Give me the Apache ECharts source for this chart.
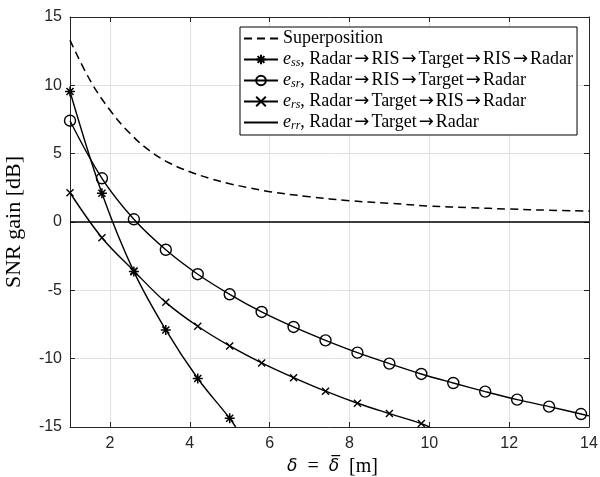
<!DOCTYPE html>
<html><head><meta charset="utf-8">
<script src="https://cdn.jsdelivr.net/npm/echarts@6/dist/echarts.min.js"></script>
<style>html,body{margin:0;padding:0;background:#fff}#c{width:600px;height:477px}</style>
</head><body><div id="c"></div>
<script>
// x positions of the markers (every curve shares them)
const markerX = [1, 1.8, 2.6, 3.4, 4.2, 5.0, 5.8, 6.6, 7.4, 8.2, 9.0, 9.8, 10.6, 11.4, 12.2, 13.0, 13.8];
// e_ss : Radar->RIS->Target->RIS->Radar
const essY = [9.55, 2.1, -3.63, -7.9, -11.45, -14.36];
const essEnd = [5.15, -15.0];
// e_sr : Radar->RIS->Target->Radar
const esrY = [7.41, 3.2, 0.2, -2.03, -3.82, -5.29, -6.58, -7.68, -8.66, -9.56, -10.36, -11.12, -11.78, -12.41, -13.0, -13.51, -14.05];
const esrEnd = [14, -14.19];
// e_rs : Radar->Target->RIS->Radar
const ersY = [2.14, -1.15, -3.58, -5.88, -7.63, -9.07, -10.31, -11.39, -12.38, -13.26, -14.02, -14.75];
const ersEnd = [10.0, -15.0];
// e_rr : Radar->Target->Radar
const errX = [1, 14];
const errY = [0, 0];
// Superposition
const supX = [1, 1.5, 2, 2.5, 3, 3.5, 4, 4.5, 5, 5.5, 6, 7, 8, 9, 10, 11, 12, 13, 14];
const supY = [13.31, 10.39, 8.19, 6.49, 5.2, 4.3, 3.68, 3.19, 2.8, 2.5, 2.22, 1.85, 1.56, 1.37, 1.17, 1.05, 0.95, 0.86, 0.80];
// axis ticks
const yTicks = { min: -15, max: 15, step: 5 };
const xRange = { min: 1, max: 14 };
// legend texts
const legendNames = ['Superposition', 'ess', 'esr', 'ers', 'err'];
const legendSubs = { ess: 'ss', esr: 'sr', ers: 'rs', err: 'rr' };
const legendPaths = {
  ess: ['Radar', 'RIS', 'Target', 'RIS', 'Radar'],
  esr: ['Radar', 'RIS', 'Target', 'Radar'],
  ers: ['Radar', 'Target', 'RIS', 'Radar'],
  err: ['Radar', 'Target', 'Radar']
};

const SERIF = '"Liberation Serif", "DejaVu Serif", serif';
const SANS = '"Liberation Sans", Arial, sans-serif';
const AX = '#262626';

function build(ys, end) {
  const d = ys.map((y, i) => [markerX[i], y]);
  if (end) d.push({ value: end, symbol: 'none' });
  return d;
}

const asterisk = 'path://M0,-10L0,10M-10,0L10,0M-7.07,-7.07L7.07,7.07M-7.07,7.07L7.07,-7.07';
const cross = 'path://M-10,-10L10,10M-10,10L10,-10';

const chart = echarts.init(document.getElementById('c'), null, { renderer: 'canvas' });

const baseX = {
  type: 'value', min: xRange.min, max: xRange.max, splitNumber: 6,
  axisLine: { show: true, onZero: false, lineStyle: { color: AX, width: 1 } },
  axisTick: { show: true, inside: true, length: 5, lineStyle: { color: AX } }
};
const baseY = {
  type: 'value', min: yTicks.min, max: yTicks.max, interval: yTicks.step,
  axisLine: { show: true, onZero: false, lineStyle: { color: AX, width: 1 } },
  axisTick: { show: true, inside: true, length: 5, lineStyle: { color: AX } }
};

const option = {
  backgroundColor: '#fff',
  animation: false,
  grid: { left: 70, right: 11, top: 17, bottom: 50, outerBoundsMode: 'none', containLabel: false },
  xAxis: [
    Object.assign({}, baseX, {
      position: 'bottom',
      axisLabel: { color: AX, fontFamily: SANS, fontSize: 16, margin: 9, showMinLabel: false },
      splitLine: { show: true, lineStyle: { color: '#e0e0e0', width: 1 } },
      name: '{i|δ}  =  {i|δ\u0305}  [m]',
      nameLocation: 'middle', nameGap: 30,
      nameTextStyle: { fontFamily: SERIF, fontSize: 20, color: '#000', padding: [0, 0, 0, 6],
        rich: { i: { fontFamily: '"DejaVu Sans", sans-serif', fontStyle: 'oblique', fontSize: 17, color: '#000' } } }
    }),
    Object.assign({}, baseX, {
      position: 'top', axisLabel: { show: false }, splitLine: { show: false }
    })
  ],
  yAxis: [
    Object.assign({}, baseY, {
      position: 'left',
      axisLabel: { color: AX, fontFamily: SANS, fontSize: 16, margin: 8 },
      splitLine: { show: true, lineStyle: { color: '#e0e0e0', width: 1 } },
      name: 'SNR gain [dB]', nameLocation: 'middle', nameGap: 45, nameRotate: 90,
      nameTextStyle: { fontFamily: SERIF, fontSize: 22, color: '#000' }
    }),
    Object.assign({}, baseY, {
      position: 'right', axisLabel: { show: false }, splitLine: { show: false }
    })
  ],
  legend: {
    orient: 'vertical', left: 240, top: 27, selectedMode: false,
    backgroundColor: '#fff', borderColor: '#000', borderWidth: 1, borderRadius: 0,
    padding: [2, 4, 3, 3], itemGap: 2, itemWidth: 34, itemHeight: 12,
    data: legendNames.map(n => (n === 'Superposition' || n === 'err')
      ? { name: n, itemStyle: { color: 'rgba(0,0,0,0)', borderWidth: 0, opacity: 0 } }
      : { name: n }),
    formatter: function (name) {
      if (name === 'Superposition') return '{t|Superposition}';
      return '{e|e}{s|' + legendSubs[name] + '}{t|, ' + legendPaths[name].join('}{a|→}{t|') + '}';
    },
    textStyle: {
      fontFamily: SERIF, fontSize: 18, color: '#000', lineHeight: 19,
      rich: {
        t: { fontFamily: SERIF, fontSize: 18, color: '#000', lineHeight: 19 },
        a: { fontFamily: '"DejaVu Sans", sans-serif', fontSize: 18, color: '#000', lineHeight: 19, padding: [0, 2, 0, 2] },
        e: { fontFamily: SERIF, fontStyle: 'italic', fontSize: 18, color: '#000', lineHeight: 19 },
        s: { fontFamily: SERIF, fontStyle: 'italic', fontSize: 12, color: '#000', lineHeight: 19, verticalAlign: 'bottom', padding: [6, 0, 0, 0] }
      }
    }
  },
  series: [
    {
      name: 'Superposition', type: 'line', smooth: 0.4, symbol: 'none',
      data: supX.map((x, i) => [x, supY[i]]),
      lineStyle: { color: '#000', width: 1.5, type: [8, 5] }, itemStyle: { color: '#000' }
    },
    {
      name: 'ess', type: 'line', smooth: 0.35, showAllSymbol: true,
      symbol: asterisk, symbolSize: 10,
      data: build(essY, essEnd),
      lineStyle: { color: '#000', width: 1.4 },
      itemStyle: { color: '#000', borderColor: '#000', borderWidth: 1.5 }
    },
    {
      name: 'esr', type: 'line', smooth: 0.35, showAllSymbol: true,
      symbol: 'circle', symbolSize: 11,
      data: build(esrY, esrEnd),
      lineStyle: { color: '#000', width: 1.4 },
      itemStyle: { color: 'rgba(0,0,0,0)', borderColor: '#000', borderWidth: 1.4 }
    },
    {
      name: 'ers', type: 'line', smooth: 0.35, showAllSymbol: true,
      symbol: cross, symbolSize: 7,
      data: build(ersY, ersEnd),
      lineStyle: { color: '#000', width: 1.4 },
      itemStyle: { color: '#000', borderColor: '#000', borderWidth: 1.4 }
    },
    {
      name: 'err', type: 'line', symbol: 'none',
      data: errX.map((x, i) => [x, errY[i]]),
      lineStyle: { color: '#000', width: 1.5 }, itemStyle: { color: '#000' }
    }
  ]
};
chart.setOption(option);
</script>
</body></html>
